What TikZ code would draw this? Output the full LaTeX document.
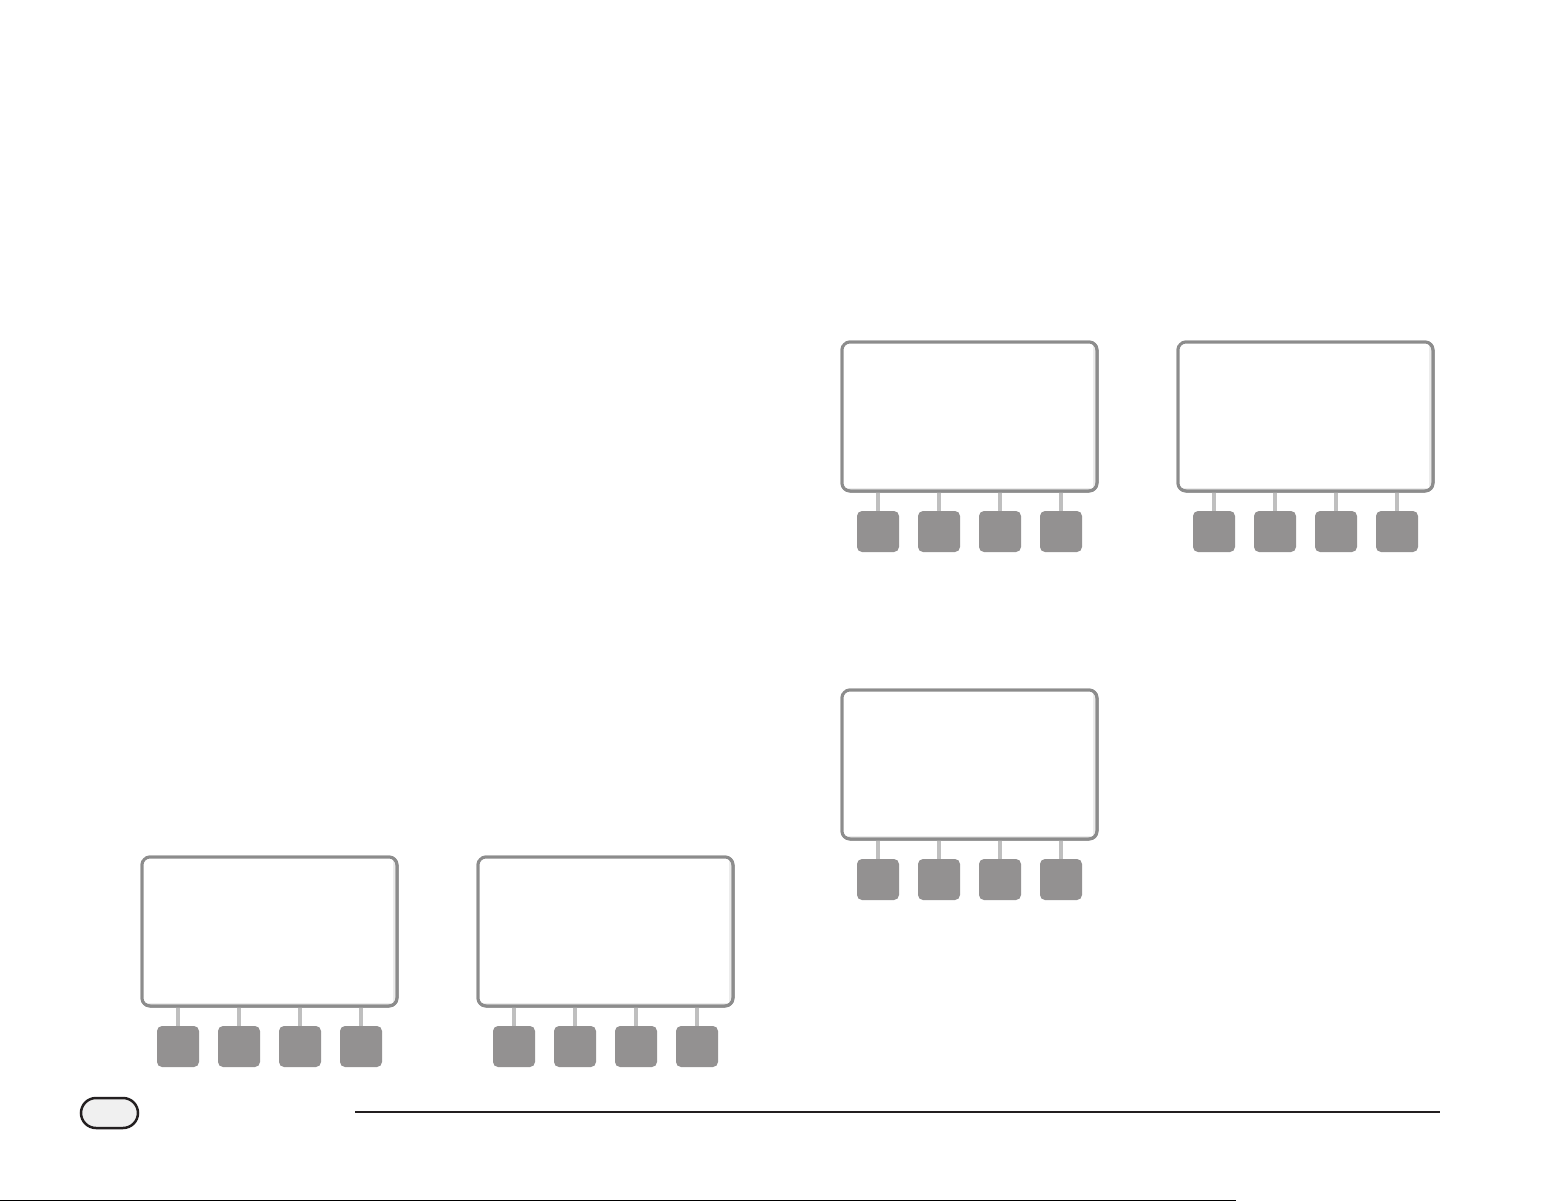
\documentclass[tikz,border=0pt]{standalone}
\usetikzlibrary{calc}
\definecolor{scrborder}{HTML}{8C8C8C}
\definecolor{scrband}{HTML}{ECECEC}
\definecolor{btnfill}{HTML}{939191}
\definecolor{stemc}{HTML}{BFBFBF}
\definecolor{inkc}{HTML}{231F20}
\definecolor{pillfill}{HTML}{F0F0F0}
\tikzset{
  screenbox/.style={draw=scrborder, line width=3pt, rounded corners=8pt, fill=scrband,
    minimum width=255pt, minimum height=149pt, inner sep=0pt, outer sep=0pt},
  screeninner/.style={fill=white, minimum width=251pt, minimum height=146pt, inner sep=0pt, outer sep=0pt, draw=none},
  btnbox/.style={fill=btnfill, rounded corners=5pt, minimum width=42pt, minimum height=41pt, inner sep=0pt, outer sep=0pt},
  stemline/.style={draw=stemc, line width=4pt},
  pillbox/.style={draw=inkc, line width=2.5pt, fill=pillfill, rounded corners=15pt, minimum width=57pt, minimum height=30pt, inner sep=0pt},
  ruleline/.style={draw=inkc, line width=2pt}
}
% #1 name, #2 x of screen left, #3 y of screen top (pixels, y downward)
\newcommand{\deviceunit}[3]{%
  \node[screenbox] (#1scr) at ({#2+129.5pt},{-(#3+76.5pt)}) {};
  \node[screeninner] (#1in) at ({#2+127.5pt},{-(#3+75pt)}) {};
  \foreach \k/\dx in {1/38,2/99,3/160,4/221}{
    \node[btnbox] (#1b\k) at ({#2+\dx pt},{-(#3+191.5pt)}) {};
    \draw[stemline] (#1b\k.north) -- (#1b\k.north |- #1scr.south);
  }
  \draw[draw=scrborder, line width=3pt, rounded corners=8pt] (#1scr.south west) rectangle (#1scr.north east);
}
\begin{document}
\begin{tikzpicture}[x=1pt,y=1pt]
\useasboundingbox (0,0) rectangle (1561,-1201);
\fill[white] (0,0) rectangle (1561,-1201);
\deviceunit{a}{140pt}{855pt}
\deviceunit{b}{476pt}{855pt}
\deviceunit{c}{840pt}{340pt}
\deviceunit{d}{1176pt}{340pt}
\deviceunit{e}{840pt}{688pt}
\node[pillbox] (pill) at (109.5,-1113) {};
\coordinate (rl) at (355,-1112);
\coordinate (rr) at (1440,-1112);
\draw[ruleline] (rl) -- (rr);
\coordinate (bl) at (0,-1200.5);
\coordinate (br) at (1236,-1200.5);
\draw[draw=black, line width=1pt] (bl) -- (br);
\end{tikzpicture}
\end{document}
